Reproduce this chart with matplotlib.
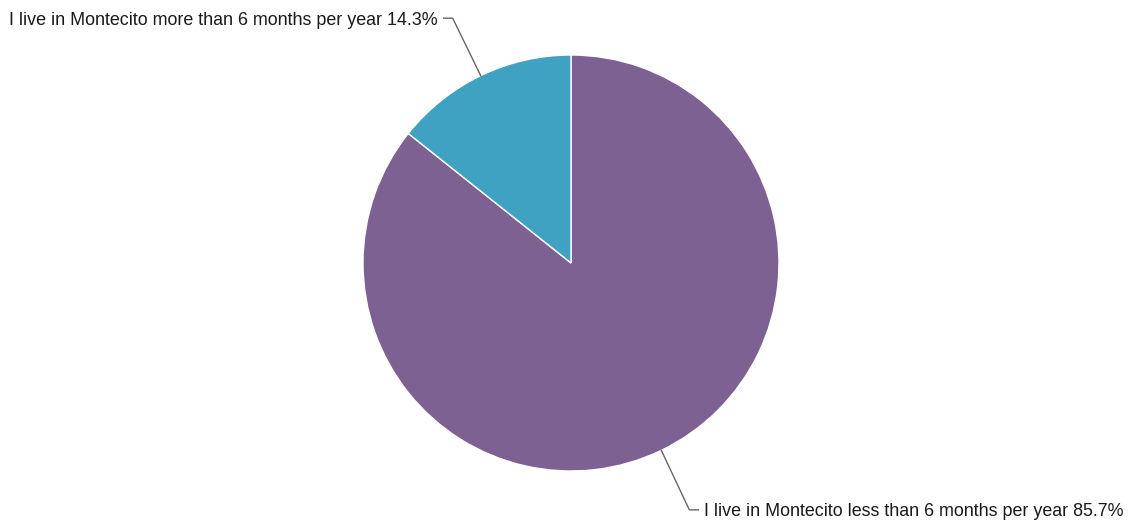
import numpy as np
import matplotlib.pyplot as plt

labels = ['I live in Montecito less than 6 months per year',
          'I live in Montecito more than 6 months per year']
shares = [85.7, 14.3]
colors = ['#7e6193', '#3fa2c2']

W, H = 1135, 525
cx, cy, r = 571, H - 263, 208

fig = plt.figure(figsize=(W / 100, H / 100), dpi=100)
ax = fig.add_axes([0, 0, 1, 1])

wedges, _ = ax.pie(shares, colors=colors, startangle=90, counterclock=False,
                   center=(cx, cy), radius=r, frame=True,
                   wedgeprops=dict(edgecolor='white', linewidth=1))
ax.set_xlim(0, W)
ax.set_ylim(0, H)
ax.set_aspect('equal')
ax.axis('off')

# elbow leader lines from each wedge's midpoint out to its label
for w, lab, val in zip(wedges, labels, shares):
    mid = np.deg2rad((w.theta1 + w.theta2) / 2)
    x0, y0 = cx + r * np.cos(mid), cy + r * np.sin(mid)
    side = 1 if np.cos(mid) > 0 else -1
    up = 1 if np.sin(mid) > 0 else -1
    x1, y1 = x0 + side * 28, y0 + up * (57.5 if up > 0 else 59.5)
    x2 = x1 + side * 9
    ax.plot([x0, x1, x2], [y0, y1, y1], color='#666666', lw=1)
    ax.text(x2 + side * 6, y1, f'{lab} {val}%', ha='left' if side > 0 else 'right',
            va='center_baseline', fontsize=12.9, family='Liberation Sans', color='#1a1a1a')

fig.savefig('out.png', dpi=100)
